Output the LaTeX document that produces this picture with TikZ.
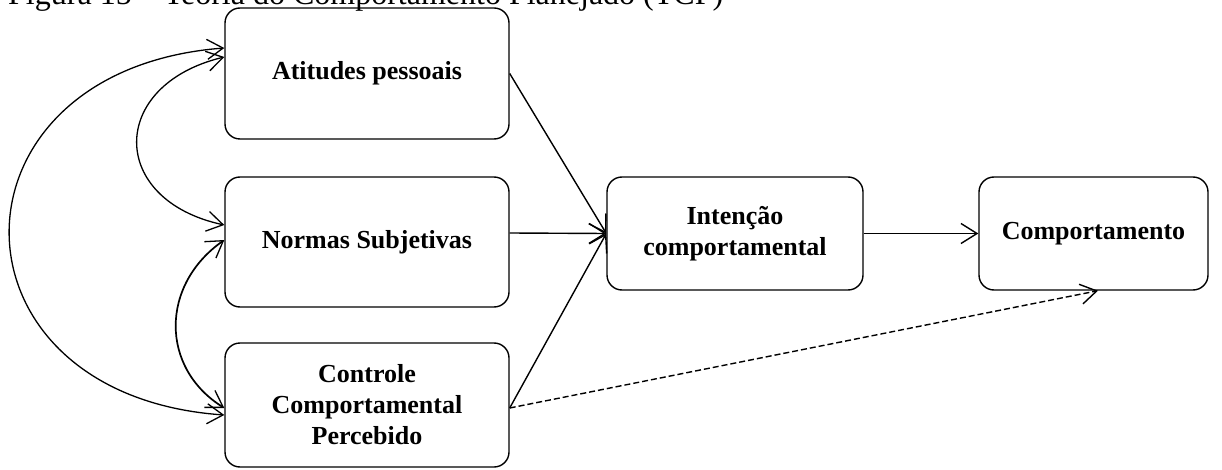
\documentclass[tikz,border=0pt]{standalone}
\usepackage{fontspec}
\setmainfont{Liberation Serif}
\usetikzlibrary{arrows.meta}
\tikzset{
  box/.style={draw, line width=1.4pt, rounded corners=15pt, align=center,
    inner sep=0pt, font=\fontsize{26}{31}\selectfont\bfseries},
  tip/.style={Straight Barb[length=16pt,width=20pt,line width=1.4pt]},
  link/.style={line width=1.4pt, -{Straight Barb[length=16pt,width=20pt,line width=1.4pt]}},
  twoway/.style={line width=1.3pt, {Straight Barb[length=16pt,width=20pt,line width=1.3pt]}-{Straight Barb[length=16pt,width=20pt,line width=1.3pt]}},
  weak/.style={link, dash pattern=on 6pt off 3pt}
}
\begin{document}
\begin{tikzpicture}[x=1pt,y=-1pt]
\useasboundingbox (0,0) rectangle (1222,470);
\clip (0,0) rectangle (1222,470);

% caption (upper part falls outside the page)
\node[anchor=base west, inner sep=0pt, font=\fontsize{32}{36}\selectfont] (cap) at (8,5)
  {Figura 15 -- Teoria do Comportamento Planejado (TCP)};

% boxes
\node[box, minimum width=284pt, minimum height=131pt] (att) at (367,73.5) {Atitudes pessoais};
\node[box, minimum width=284pt, minimum height=130pt] (norm) at (367,242) {Normas Subjetivas};
\node[box, minimum width=284pt, minimum height=124pt] (ctrl) at (367,405) {Controle\\Comportamental\\Percebido};
\node[box, minimum width=256pt, minimum height=113pt] (int) at (735,233.5) {Intenção\\comportamental};
\node[box, minimum width=229pt, minimum height=113pt] (beh) at (1093.5,233.5) {Comportamento};

% direct paths
\draw[link] (att.east) -- (int.west);
\draw[link] ([yshift=9pt]norm.east) -- (int.west);
\draw[link] ([yshift=-3pt]ctrl.east) -- (int.west);
\draw[link] (int.east) -- (beh.west);
\draw[weak] ([yshift=-3pt]ctrl.east) -- ([xshift=4.5pt]beh.south);

% correlations between the antecedents
\draw[twoway] ([yshift=25.5pt]att.west) .. controls (-62,70) and (-62,395) .. ([yshift=-10pt]ctrl.west);
\draw[twoway] ([yshift=16.5pt]att.west) .. controls (108,85) and (108,200) .. ([yshift=17pt]norm.west);
\draw[twoway, line width=1.7pt] ([yshift=2pt]norm.west) .. controls (160,285) and (160,368) .. ([yshift=-3pt]ctrl.west);
\end{tikzpicture}
\end{document}
